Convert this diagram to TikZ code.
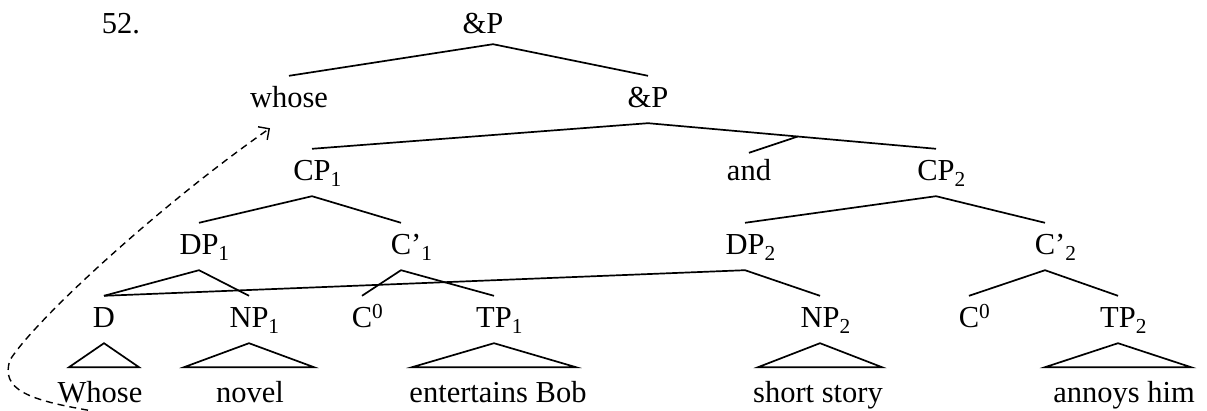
\documentclass[tikz,border=0pt]{standalone}
\usepackage{fontspec}
\setmainfont{Liberation Serif}
\usepackage{tikz}
\usetikzlibrary{arrows.meta,calc}
\newcommand{\idx}[1]{\rlap{\textsubscript{#1}}}
\newcommand{\supr}[1]{\rlap{\textsuperscript{#1}}}
\newcommand{\roof}[2]{\draw[branch] (#1.south) -- ++(-#2,24) -- ++(2*#2,0) -- cycle;}

\begin{document}
\begin{tikzpicture}[x=1pt, y=-1pt,
    font=\fontsize{30.5}{36}\selectfont,
    cat/.style={anchor=base, inner xsep=0pt, inner ysep=8pt, text height=24pt, text depth=7pt},
    branch/.style={line width=1.7pt},
    move/.style={line width=1.4pt, dash pattern=on 7pt off 5pt, -{Straight Barb[length=8pt, width=16pt]}}
]
\useasboundingbox (0,0) rectangle (1207,411);

% Example number
\node[cat] (num) at (121,34) {52.};

% Coordination
\node[cat] (ampA) at (483,34) {\&P};
\node[cat] (whose) at (289,108) {whose};
\node[cat] (ampB) at (648,108) {\&P};
\node[cat] (cpA) at (312,181) {CP\idx{1}};
\node[cat] (and) at (749,181) {and};
\node[cat] (cpB) at (936,181) {CP\idx{2}};

% Clause level
\node[cat] (dpA) at (199,255) {DP\idx{1}};
\node[cat] (cbarA) at (401,255) {C\rlap{’\textsubscript{1}}};
\node[cat] (dpB) at (745,255) {DP\idx{2}};
\node[cat] (cbarB) at (1045,255) {C\rlap{’\textsubscript{2}}};

% Heads and complements
\node[cat] (d) at (104,328) {D};
\node[cat] (npA) at (249,328) {NP\idx{1}};
\node[cat] (cA) at (362,328) {C\supr{0}};
\node[cat] (tpA) at (494,328) {TP\idx{1}};
\node[cat] (npB) at (820,328) {NP\idx{2}};
\node[cat] (cB) at (969,328) {C\supr{0}};
\node[cat] (tpB) at (1118,328) {TP\idx{2}};

% Words
\node[cat] (wWhose) at (100,402) {Whose};
\node[cat] (wNovel) at (250,402) {novel};
\node[cat] (wEnt) at (498,402) {entertains Bob};
\node[cat] (wStory) at (818,402) {short story};
\node[cat] (wAnnoy) at (1124,402) {annoys him};

% Branches
\draw[branch] (whose.north) -- ([xshift=10pt,yshift=5pt]ampA.south) -- (ampB.north);
\draw[branch] (cpA.north) -- (ampB.south) -- (cpB.north);
\draw[branch] ([yshift=-4pt]and.north) -- ($(ampB.south)!0.52!(cpB.north)$);
\draw[branch] (dpA.north) -- (cpA.south) -- (cbarA.north);
\draw[branch] (dpB.north) -- (cpB.south) -- (cbarB.north);
\draw[branch] (d.north) -- (dpA.south) -- (npA.north);
\draw[branch] (cA.north) -- (cbarA.south) -- (tpA.north);
\draw[branch] (d.north) -- (dpB.south) -- (npB.north);
\draw[branch] (cB.north) -- (cbarB.south) -- (tpB.north);

% Roofs
\roof{d}{35}
\roof{npA}{65}
\roof{tpA}{82}
\roof{npB}{62}
\roof{tpB}{73}

% Movement
\coordinate (mvFrom) at ($(wWhose.south)+(-12,-7)$);
\coordinate (mvTo) at ($(whose.south)+(-19,5)$);
\draw[move] (mvFrom) .. controls (30,400) and (0,390) .. (10,360)
    .. controls (35,320) and (160,205) .. (mvTo);

\end{tikzpicture}
\end{document}
